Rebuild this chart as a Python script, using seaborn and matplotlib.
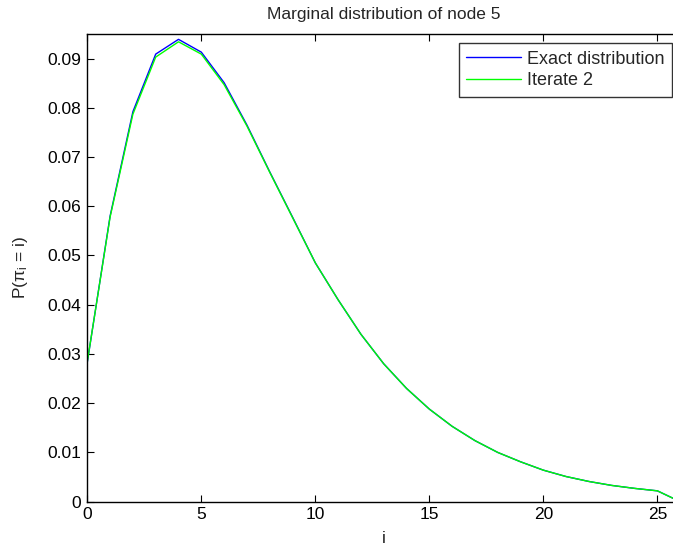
import matplotlib
matplotlib.use("Agg")
import matplotlib.pyplot as plt
import numpy as np
import pandas as pd
import seaborn as sns

# values
i_vals = list(range(27))
exact = [0.0283, 0.0580, 0.0792, 0.0909, 0.0939, 0.0913, 0.0851, 0.0765, 0.0670,
         0.0578, 0.0485, 0.0410, 0.0340, 0.0280, 0.0230, 0.0188, 0.0153, 0.0124,
         0.0100, 0.0081, 0.0064, 0.0051, 0.0041, 0.0033, 0.0027, 0.0022, 0.0000]
iterate2 = [0.0284, 0.0578, 0.0787, 0.0903, 0.0934, 0.0909, 0.0847, 0.0763, 0.0669,
            0.0577, 0.0485, 0.0410, 0.0340, 0.0280, 0.0230, 0.0188, 0.0153, 0.0124,
            0.0100, 0.0081, 0.0064, 0.0051, 0.0041, 0.0033, 0.0027, 0.0022, 0.0000]
series_names = ["Exact distribution", "Iterate 2"]
series_colors = ["#0000ff", "#00ff00"]

sns.set_style("ticks")
plt.rcParams["font.family"] = ["Liberation Sans", "DejaVu Sans"]
plt.rcParams["mathtext.fontset"] = "custom"
plt.rcParams["mathtext.rm"] = "Liberation Sans"
plt.rcParams["mathtext.it"] = "Liberation Sans"

df = pd.DataFrame({
    "i": i_vals * 2,
    "p": exact + iterate2,
    "series": [series_names[0]] * len(i_vals) + [series_names[1]] * len(i_vals),
})

fs = 12.5
fig = plt.figure(figsize=(6.73, 5.49), dpi=100)
ax = fig.add_axes([0.1297, 0.0862, 0.881, 0.852])
sns.lineplot(data=df, x="i", y="p", hue="series", palette=series_colors,
             linewidth=1.0, ax=ax, legend=False)

ax.set_xlim(0, 26)
ax.set_ylim(0, 0.095)
ax.set_xticks([0, 5, 10, 15, 20, 25])
ax.set_yticks(np.arange(0, 0.091, 0.01))
ax.set_yticklabels(["0"] + [f"{v:.2f}" for v in np.arange(0.01, 0.091, 0.01)])
ax.tick_params(direction="in", length=5, width=0.8, labelsize=fs,
               top=True, right=True, colors="black")
ax.tick_params(axis="y", pad=4.5)
ax.tick_params(axis="x", pad=3.5)
for s in ax.spines.values():
    s.set_linewidth(1.0)
    s.set_color("black")

ax.set_xlabel("i", fontsize=fs, labelpad=7)
ax.set_ylabel(r"P(π$_\mathregular{i}$ = i)", fontsize=fs, labelpad=12)
ax.set_title("Marginal distribution of node 5", fontsize=fs, pad=11)

handles = ax.get_lines()[:2]
leg = fig.legend(handles, series_names, loc="upper right",
                 bbox_to_anchor=(672 / 673, 1 - 43 / 549), fontsize=13,
                 frameon=True, fancybox=False, handlelength=3.0,
                 handletextpad=0.35, borderpad=0.42, labelspacing=0.25,
                 borderaxespad=0)
leg.get_frame().set_edgecolor("black")
leg.get_frame().set_linewidth(1.0)

fig.savefig("out.png", dpi=100)
